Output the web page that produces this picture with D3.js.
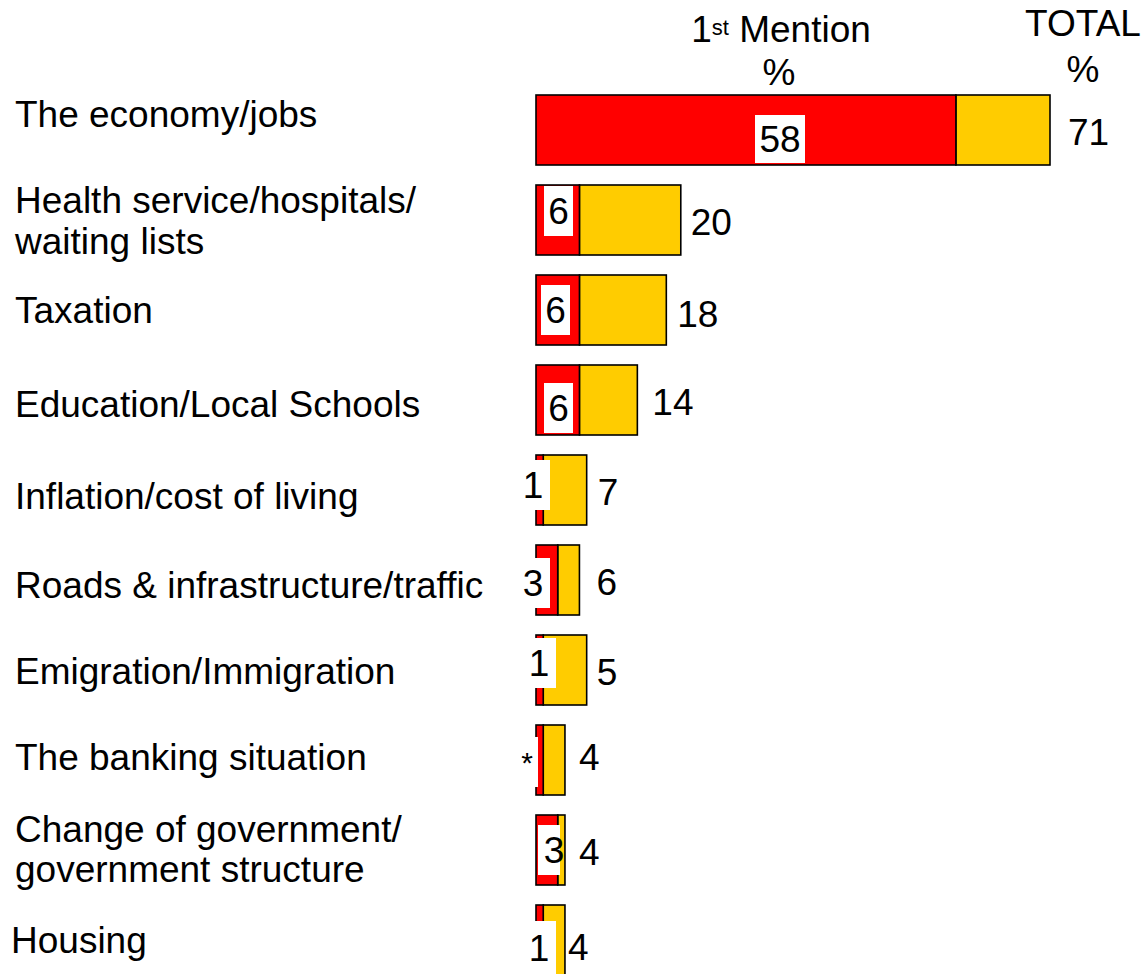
<!DOCTYPE html>
<html>
<head>
<meta charset="utf-8">
<script src="https://cdn.jsdelivr.net/npm/d3@7"></script>
<style>
  html, body { margin: 0; padding: 0; background: #fff; }
  svg { display: block; }
  text { font-family: "Liberation Sans", Arial, Helvetica, sans-serif; fill: #000; }
</style>
</head>
<body>
<svg id="chart" width="1145" height="974"></svg>
<script>
// ---- data ----
const categories = [
  "The economy/jobs",
  "Health service/hospitals/\nwaiting lists",
  "Taxation",
  "Education/Local Schools",
  "Inflation/cost of living",
  "Roads & infrastructure/traffic",
  "Emigration/Immigration",
  "The banking situation",
  "Change of government/\ngovernment structure",
  "Housing"
];
const firstMention = [58, 6, 6, 6, 1, 3, 1, 1, 3, 1];
const totalMention = [71, 20, 18, 14, 7, 6, 7, 4, 4, 4];
const firstLabels = ["58", "6", "6", "6", "1", "3", "1", "*", "3", "1"];
const totalLabels = ["71", "20", "18", "14", "7", "6", "5", "4", "4", "4"];

// ---- layout (label placement tweaks, not data) ----
const boxLayout = [ // [left, width, dy from band center, height]
  [755, 50, 9, 48],
  [544, 29, -9, 50],
  [541, 29, 0, 50],
  [544, 29, 8, 50],
  [524, 26, -5, 50],
  [522, 28, 3, 50],
  [528, 28, -7, 50],
  [514, 24, 2, 50],
  [538, 22, 0, 50],
  [528, 28, 8, 54]
];
const firstTextDx = [0, 0, 0, 0, -4, -3, -3, 1, 5, -3];
const firstTextFont = [37, 37, 37, 37, 37, 37, 37, 30, 37, 37];
const totalDx = [18, 10, 11, 15, 11, 17, 10, 14, 14, 3];
const totalDy = [15, 15, 17, 15, 15, 15, 15, 10, 15, 20];
const catBaseline = [127, 213, 323, 417, 509, 598, 684, 770, 842, 953];
const catLineGap = [0, 41, 0, 0, 0, 0, 0, 0, 40, 0];
const catX = [15, 15, 15, 15, 15, 15, 15, 15, 15, 11];

const svg = d3.select("#chart");
const FS = 37;

const x = d3.scaleLinear().domain([0, 71]).range([536, 1050]);
const y = d3.scaleBand().domain(d3.range(categories.length))
  .range([85, 985]).paddingInner(2 / 9).paddingOuter(1 / 9);

const rows = categories.map((c, i) => ({
  i, cat: c, first: firstMention[i], total: totalMention[i],
  fl: firstLabels[i], tl: totalLabels[i]
}));

// header
const h1 = svg.append("text").attr("x", 781).attr("y", 42)
  .attr("text-anchor", "middle").style("font-size", FS + "px");
h1.append("tspan").text("1");
h1.append("tspan").text("st").style("font-size", "22px").attr("dy", -7);
h1.append("tspan").text(" Mention").attr("dy", 7);
svg.append("text").attr("x", 779).attr("y", 85).attr("text-anchor", "middle")
  .style("font-size", FS + "px").text("%");
svg.append("text").attr("x", 1083).attr("y", 36).attr("text-anchor", "middle")
  .style("font-size", FS + "px").text("TOTAL");
svg.append("text").attr("x", 1083).attr("y", 82).attr("text-anchor", "middle")
  .style("font-size", FS + "px").text("%");

// category labels
rows.forEach(d => {
  const lines = d.cat.split("\n");
  const t = svg.append("text").attr("x", catX[d.i]).attr("y", catBaseline[d.i])
    .style("font-size", FS + "px");
  lines.forEach((ln, k) => {
    t.append("tspan").attr("x", catX[d.i]).attr("dy", k === 0 ? 0 : catLineGap[d.i]).text(ln);
  });
});

// bars
const g = svg.append("g");
g.selectAll("rect.total").data(rows).join("rect")
  .attr("class", "total")
  .attr("x", d => x(d.first))
  .attr("y", d => y(d.i))
  .attr("width", d => x(d.total) - x(d.first))
  .attr("height", y.bandwidth())
  .attr("fill", "#FFCC00").attr("stroke", "#000").attr("stroke-width", 1.6);
g.selectAll("rect.first").data(rows).join("rect")
  .attr("class", "first")
  .attr("x", x(0))
  .attr("y", d => y(d.i))
  .attr("width", d => x(d.first) - x(0))
  .attr("height", y.bandwidth())
  .attr("fill", "#FF0000").attr("stroke", "#000").attr("stroke-width", 1.6);

// first mention label boxes
rows.forEach(d => {
  const b = boxLayout[d.i];
  const cy = y(d.i) + y.bandwidth() / 2 + b[2];
  svg.append("rect").attr("x", b[0]).attr("y", cy - b[3] / 2)
    .attr("width", b[1]).attr("height", b[3]).attr("fill", "#fff");
  svg.append("text")
    .attr("x", b[0] + b[1] / 2 + firstTextDx[d.i])
    .attr("y", d.fl === "*" ? cy + 11 : cy + 13)
    .attr("text-anchor", "middle")
    .style("font-size", firstTextFont[d.i] + "px")
    .text(d.fl);
});

// total labels
svg.selectAll("text.tot").data(rows).join("text")
  .attr("class", "tot")
  .attr("x", d => x(d.total) + totalDx[d.i])
  .attr("y", d => y(d.i) + y.bandwidth() / 2 + totalDy[d.i])
  .style("font-size", FS + "px")
  .text(d => d.tl);
</script>
</body>
</html>
